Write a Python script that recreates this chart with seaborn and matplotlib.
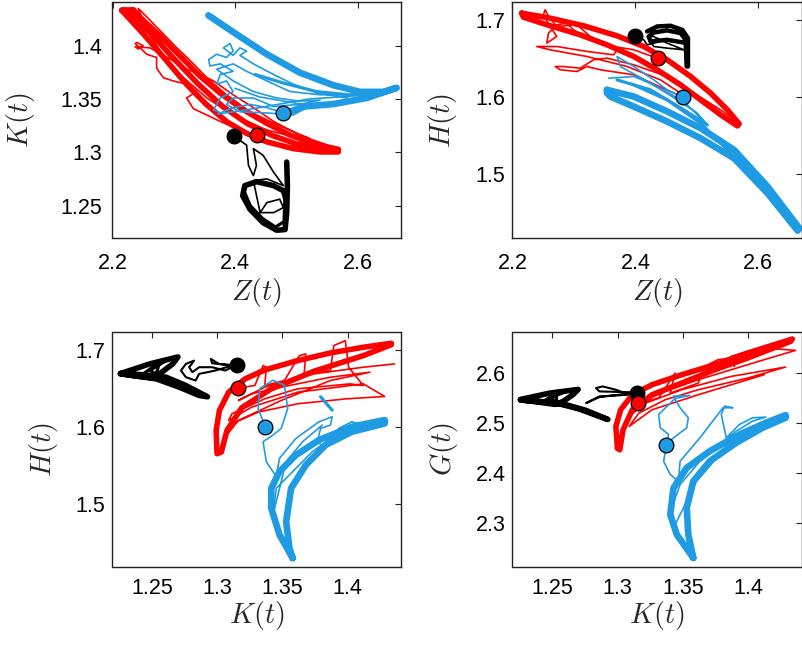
import matplotlib
matplotlib.use('Agg')
import matplotlib.pyplot as plt
import seaborn as sns

RED = '#FF0000'
BLUE = '#1F9BE3'
BLACK = '#000000'

# ---------------- Panel TL : Z(t) vs K(t) ----------------
tl_red_thick_z = [2.215, 2.2503, 2.2884, 2.3211, 2.3537, 2.3864, 2.419, 2.4517, 2.4952, 2.5388, 2.5687,
                  2.5687, 2.5333, 2.4898, 2.4517, 2.4136, 2.3755, 2.3429, 2.3102, 2.2776, 2.2503, 2.234, 2.215,
                  2.222, 2.26, 2.30, 2.34, 2.38, 2.42, 2.46, 2.50, 2.55]
tl_red_thick_k = [1.4332, 1.4111, 1.3858, 1.3636, 1.3447, 1.3288, 1.3178, 1.3099, 1.3035, 1.3004, 1.3004,
                  1.3029, 1.3073, 1.3162, 1.3273, 1.3399, 1.3557, 1.3715, 1.3905, 1.4095, 1.4237, 1.4338, 1.4332,
                  1.433, 1.413, 1.388, 1.364, 1.343, 1.327, 1.316, 1.308, 1.303]
tl_red_thin_z = [2.435, 2.408, 2.376, 2.354, 2.332, 2.321, 2.337, 2.321, 2.299, 2.283, 2.272, 2.272, 2.256, 2.245,
                 2.237, 2.240, 2.250, 2.242, 2.237, 2.261, 2.299, 2.321, 2.343, 2.365, 2.397, 2.430, 2.463, 2.506,
                 2.550, 2.506, 2.452, 2.397, 2.354, 2.310, 2.278, 2.256, 2.242, 2.256, 2.278, 2.305, 2.327, 2.354,
                 2.386, 2.425, 2.468, 2.522]
tl_red_thin_k = [1.316, 1.321, 1.329, 1.335, 1.341, 1.351, 1.357, 1.364, 1.367, 1.370, 1.379, 1.389, 1.392, 1.398,
                 1.402, 1.403, 1.400, 1.397, 1.399, 1.398, 1.386, 1.378, 1.373, 1.367, 1.354, 1.342, 1.329, 1.316,
                 1.307, 1.313, 1.321, 1.335, 1.351, 1.373, 1.395, 1.414, 1.435, 1.427, 1.414, 1.398, 1.386, 1.370,
                 1.354, 1.338, 1.326, 1.313]
tl_blue_thick_z = [2.3565, 2.3973, 2.4517, 2.5061, 2.5605, 2.6041, 2.6422, 2.6639, 2.6150, 2.5605, 2.5143, 2.4898]
tl_blue_thick_k = [1.4285, 1.4127, 1.3921, 1.3747, 1.3630, 1.3567, 1.3567, 1.3605, 1.3510, 1.3453, 1.3431, 1.3383]
tl_blue_mid_z = [2.433, 2.479, 2.533, 2.585, 2.626, 2.664]
tl_blue_mid_k = [1.373, 1.365, 1.357, 1.354, 1.355, 1.360]
tl_blue_thin_z = [2.479, 2.452, 2.425, 2.397, 2.376, 2.365, 2.376, 2.397, 2.386, 2.370, 2.376, 2.397, 2.376, 2.359,
                  2.357, 2.370, 2.386, 2.397, 2.392, 2.381, 2.397, 2.408, 2.419, 2.408, 2.430, 2.463, 2.495, 2.533,
                  2.582, 2.588, 2.539, 2.490, 2.452, 2.419, 2.397, 2.370, 2.397, 2.430, 2.468, 2.506, 2.539, 2.506,
                  2.463, 2.430, 2.397, 2.386, 2.408, 2.452, 2.495, 2.517, 2.561]
tl_blue_thin_k = [1.337, 1.342, 1.345, 1.342, 1.337, 1.340, 1.351, 1.357, 1.367, 1.364, 1.373, 1.376, 1.383, 1.381,
                  1.387, 1.392, 1.389, 1.395, 1.402, 1.398, 1.391, 1.398, 1.395, 1.391, 1.383, 1.373, 1.364, 1.356,
                  1.351, 1.354, 1.354, 1.357, 1.367, 1.376, 1.383, 1.378, 1.367, 1.357, 1.351, 1.348, 1.349, 1.345,
                  1.343, 1.351, 1.351, 1.345, 1.338, 1.337, 1.335, 1.342, 1.345]
tl_blue_thin2_z = [2.372, 2.42, 2.47, 2.52, 2.57, 2.62, 2.60, 2.55, 2.50, 2.44, 2.40]
tl_blue_thin2_k = [1.336, 1.340, 1.345, 1.350, 1.352, 1.354, 1.349, 1.343, 1.346, 1.352, 1.360]
tl_black_thick_z = [2.4844, 2.4855, 2.4844, 2.4817, 2.468, 2.446, 2.4245, 2.4125, 2.416, 2.435, 2.463, 2.479, 2.4833]
tl_black_thick_k = [1.2909, 1.2688, 1.2435, 1.2276, 1.2270, 1.2340, 1.2466, 1.2593, 1.2688, 1.2725, 1.2688, 1.2640, 1.2561]
tl_black_mid_z = [2.482, 2.480, 2.466, 2.445, 2.425, 2.416]
tl_black_mid_k = [1.265, 1.235, 1.230, 1.238, 1.250, 1.262]
tl_black_thin_z = [2.399, 2.419, 2.422, 2.430, 2.435, 2.430, 2.446, 2.463, 2.479, 2.452, 2.430, 2.441, 2.452, 2.473,
                   2.479, 2.463, 2.441]
tl_black_thin_k = [1.315, 1.3067, 1.2877, 1.2782, 1.2877, 1.3035, 1.2972, 1.2814, 1.2688, 1.2751, 1.2735, 1.2435,
                   1.2529, 1.2561, 1.2482, 1.2435, 1.2435]

# ---------------- Panel TR : Z(t) vs H(t) ----------------
tr_red_thick_z = [2.215, 2.2612, 2.3156, 2.3701, 2.4136, 2.4517, 2.4898, 2.5224, 2.5497, 2.5687, 2.5660, 2.5388,
                  2.5061, 2.4735, 2.4354, 2.3973, 2.3537, 2.3102, 2.2612, 2.2177, 2.215]
tr_red_thick_h = [1.7095, 1.7030, 1.6931, 1.6800, 1.6661, 1.6488, 1.6271, 1.6054, 1.5837, 1.5655, 1.5628, 1.5772,
                  1.5967, 1.6162, 1.6358, 1.6531, 1.6683, 1.6813, 1.6931, 1.7043, 1.7095]
tr_red_thin_z = [2.4354, 2.3973, 2.3646, 2.3429, 2.3211, 2.2993, 2.2884, 2.2721, 2.2585, 2.2558, 2.2721, 2.2612,
                 2.2503, 2.2531, 2.2585, 2.2721, 2.3048, 2.3265, 2.3483, 2.3701, 2.3646, 2.3211, 2.2721, 2.2395,
                 2.2612, 2.3211, 2.3864, 2.4408, 2.4898, 2.4626, 2.3973, 2.3429, 2.3211, 2.3048, 2.2776, 2.2694,
                 2.2830, 2.3102, 2.3320, 2.3537, 2.3973, 2.4517, 2.4952, 2.5388, 2.5605]
tr_red_thin_h = [1.6510, 1.6618, 1.6661, 1.6727, 1.6770, 1.6878, 1.6965, 1.6944, 1.6835, 1.6705, 1.6792, 1.6922,
                 1.7074, 1.7139, 1.7052, 1.6922, 1.6944, 1.6792, 1.6683, 1.6618, 1.6553, 1.6597, 1.6661, 1.6661,
                 1.6618, 1.6531, 1.6401, 1.6227, 1.5967, 1.6054, 1.6293, 1.6358, 1.6401, 1.6336, 1.6358, 1.6401,
                 1.6401, 1.6379, 1.6488, 1.6510, 1.6423, 1.6271, 1.6054, 1.5837, 1.5707]
tr_blue_thick_z = [2.3537, 2.3973, 2.4517, 2.5061, 2.5605, 2.6150, 2.6667, 2.6639, 2.6150, 2.5605, 2.5061, 2.4517,
                   2.3973, 2.3592, 2.3537, 2.3537]
tr_blue_thick_h = [1.6097, 1.6010, 1.5816, 1.5598, 1.5316, 1.4839, 1.4296, 1.4266, 1.4752, 1.5207, 1.5468, 1.5685,
                   1.5880, 1.6010, 1.6054, 1.6097]
tr_blue_mid_z = [2.3701, 2.4245, 2.4789, 2.5170, 2.3973, 2.4517, 2.5061, 2.5551]
tr_blue_mid_h = [1.6227, 1.6097, 1.5837, 1.5641, 1.6162, 1.5967, 1.5664, 1.5273]
tr_blue_thin_z = [2.478, 2.4517, 2.4299, 2.3973, 2.3701, 2.3755, 2.4100, 2.4517, 2.5000, 2.5170, 2.4789, 2.4299,
                  2.3973, 2.3565]
tr_blue_thin_h = [1.600, 1.6097, 1.6227, 1.6401, 1.6531, 1.6400, 1.6250, 1.6050, 1.5800, 1.5641, 1.5945, 1.6162,
                  1.6271, 1.6249]
tr_black_thick_z = [2.4190, 2.4354, 2.4571, 2.4762, 2.4855, 2.4855, 2.4833, 2.4816, 2.4735, 2.4517, 2.4299, 2.4218,
                    2.4245, 2.4517, 2.4844]
tr_black_thick_h = [1.6857, 1.6922, 1.6931, 1.6878, 1.6770, 1.6401, 1.6401, 1.6748, 1.6835, 1.6870, 1.6844, 1.6792,
                    1.6727, 1.6748, 1.6705]
tr_black_thin_z = [2.399, 2.4136, 2.4190, 2.4299, 2.4408, 2.4299, 2.4190, 2.4299, 2.4517, 2.4789, 2.4517, 2.4354]
tr_black_thin_h = [1.680, 1.6748, 1.6683, 1.6705, 1.6727, 1.6792, 1.6792, 1.6661, 1.6640, 1.6618, 1.6705, 1.6770]

# ---------------- Panel BL : K(t) vs H(t) ----------------
bl_red_thick_k = [1.4336, 1.4121, 1.3869, 1.3617, 1.3365, 1.3214, 1.3088, 1.3017, 1.2992, 1.2999, 1.3032, 1.3075,
                  1.3188, 1.3415, 1.3743, 1.4121, 1.4336]
bl_red_thick_h = [1.7087, 1.7035, 1.6961, 1.6861, 1.6740, 1.6623, 1.6450, 1.6212, 1.5952, 1.5649, 1.5671, 1.5952,
                  1.6247, 1.6494, 1.6723, 1.6926, 1.7069]
bl_red_thin_k = [1.3151, 1.3289, 1.3352, 1.3377, 1.3365, 1.3516, 1.3630, 1.3680, 1.3667, 1.3869, 1.3894, 1.3983,
                 1.4008, 1.4121, 1.4020, 1.3617, 1.3365, 1.3113, 1.3088, 1.3264, 1.3617, 1.4121, 1.4285, 1.3995,
                 1.3617, 1.3314, 1.3113, 1.3062, 1.3163, 1.3491, 1.3869, 1.4172, 1.3869, 1.3491, 1.3264, 1.3163,
                 1.3365, 1.3743, 1.4121, 1.4361]
bl_red_thin_h = [1.6502, 1.6537, 1.6797, 1.6775, 1.6537, 1.6602, 1.6926, 1.6948, 1.6688, 1.6732, 1.7056, 1.7121,
                 1.6775, 1.6537, 1.6558, 1.6494, 1.6364, 1.6169, 1.6082, 1.6255, 1.6450, 1.6558, 1.6394, 1.6364,
                 1.6299, 1.6190, 1.6039, 1.5866, 1.6082, 1.6342, 1.6602, 1.6710, 1.6645, 1.6515, 1.6429, 1.6342,
                 1.6515, 1.6688, 1.6775, 1.6818]
bl_blue_thick_k = [1.3579, 1.3478, 1.3415, 1.3415, 1.3478, 1.3604, 1.3781, 1.4033, 1.4285, 1.4285, 1.4033, 1.3831,
                   1.3680, 1.3567, 1.3529, 1.3554, 1.3579]
bl_blue_thick_h = [1.4290, 1.4593, 1.4939, 1.5199, 1.5416, 1.5632, 1.5827, 1.6000, 1.6087, 1.6043, 1.5935, 1.5762,
                   1.5502, 1.5199, 1.4766, 1.4420, 1.4290]
bl_blue_mid_k = [1.3793, 1.3882]
bl_blue_mid_h = [1.6390, 1.6216]
bl_blue_thin_k = [1.3372, 1.3314, 1.3327, 1.3428, 1.3516, 1.3541, 1.3491, 1.3428, 1.3352, 1.3377, 1.3453, 1.3478,
                  1.3604, 1.3781, 1.3882, 1.3869, 1.3793, 1.3768, 1.3831, 1.3932, 1.4033, 1.4109, 1.4033, 1.3907,
                  1.3730, 1.3579, 1.3453, 1.3428, 1.3529, 1.3655, 1.3806]
bl_blue_thin_h = [1.5987, 1.6238, 1.6498, 1.6606, 1.6541, 1.6238, 1.5978, 1.5892, 1.5805, 1.5545, 1.5351, 1.5589,
                  1.5848, 1.6065, 1.6130, 1.6022, 1.5978, 1.5805, 1.5719, 1.5978, 1.6065, 1.6022, 1.5978, 1.5892,
                  1.5675, 1.5416, 1.5199, 1.4853, 1.5545, 1.5805, 1.6022]
bl_black_thick_k = [1.2258, 1.2482, 1.2699, 1.2659, 1.2558, 1.2548, 1.2356, 1.2258, 1.2407, 1.2608, 1.2760, 1.2926,
                    1.2861, 1.2709, 1.2533, 1.2258]
bl_black_thick_h = [1.6693, 1.6818, 1.6909, 1.6818, 1.6688, 1.6628, 1.6667, 1.6693, 1.6680, 1.6645, 1.6537, 1.6390,
                    1.6407, 1.6515, 1.6623, 1.6688]
bl_black_mid_k = [1.2432, 1.2558, 1.2533, 1.2482, 1.2608]
bl_black_mid_h = [1.6688, 1.6840, 1.6688, 1.6732, 1.6861]
bl_black_thin_k = [1.3151, 1.3012, 1.2951, 1.2961, 1.3113, 1.2987, 1.2861, 1.2835, 1.2760, 1.2722, 1.2760, 1.2823,
                   1.2785, 1.2810, 1.2861, 1.2961, 1.3062, 1.3113]
bl_black_thin_h = [1.6797, 1.6818, 1.6883, 1.6827, 1.6797, 1.6732, 1.6688, 1.6602, 1.6645, 1.6732, 1.6818, 1.6861,
                   1.6775, 1.6710, 1.6775, 1.6775, 1.6732, 1.6775]

# ---------------- Panel BR : K(t) vs G(t) ----------------
br_red_thick_k = [1.2999, 1.2987, 1.3024, 1.3113, 1.3264, 1.3491, 1.3743, 1.3995, 1.4336, 1.4323, 1.3995, 1.3743,
                  1.3491, 1.3264, 1.3113, 1.3042, 1.3017, 1.2999]
br_red_thick_g = [2.4500, 2.4933, 2.5267, 2.5567, 2.5767, 2.5967, 2.6167, 2.6400, 2.6680, 2.6633, 2.6300, 2.6067,
                  2.5800, 2.5567, 2.5267, 2.4867, 2.4467, 2.4500]
br_red_thin_k = [1.3151, 1.3314, 1.3415, 1.3440, 1.3403, 1.3617, 1.3667, 1.3768, 1.3869, 1.3894, 1.3869, 1.3995,
                 1.4121, 1.4361, 1.4121, 1.3869, 1.3617, 1.3365, 1.3163, 1.3088, 1.3214, 1.3491, 1.3869, 1.4285,
                 1.3995, 1.3617, 1.3365, 1.3163, 1.3088, 1.3264, 1.3617, 1.3869, 1.4121]
br_red_thin_g = [2.5400, 2.5500, 2.5900, 2.6000, 2.5600, 2.5800, 2.6133, 2.6267, 2.6300, 2.6133, 2.6333, 2.6433,
                 2.6500, 2.6453, 2.6267, 2.6067, 2.5867, 2.5633, 2.5400, 2.5133, 2.5400, 2.5667, 2.5933, 2.6120,
                 2.5900, 2.5667, 2.5467, 2.5200, 2.4933, 2.5267, 2.5567, 2.5767, 2.5967]
br_blue_thick_k = [1.3579, 1.3453, 1.3403, 1.3428, 1.3529, 1.3705, 1.3932, 1.4134, 1.4285, 1.4285, 1.4109, 1.3907,
                   1.3705, 1.3579, 1.3529, 1.3541, 1.3579]
br_blue_thick_g = [2.2307, 2.2773, 2.3173, 2.3707, 2.4107, 2.4440, 2.4773, 2.5007, 2.5160, 2.5107, 2.4907, 2.4607,
                   2.4240, 2.3840, 2.3307, 2.2773, 2.2307]
br_blue_thin_k = [1.3372, 1.3428, 1.3529, 1.3541, 1.3478, 1.3440, 1.3428, 1.3554, 1.3440, 1.3314, 1.3327, 1.3390,
                  1.3352, 1.3403, 1.3466, 1.3478, 1.3630, 1.3806, 1.3882, 1.3819, 1.3793, 1.3831, 1.3932, 1.4033,
                  1.4134, 1.4033, 1.3907, 1.3781, 1.3630, 1.3478, 1.3415, 1.3428, 1.3478, 1.3604, 1.3781, 1.3983,
                  1.4134]
br_blue_thin_g = [2.4573, 2.4707, 2.4907, 2.5107, 2.5307, 2.5473, 2.5540, 2.5553, 2.5493, 2.5173, 2.4907, 2.4773,
                  2.4240, 2.3973, 2.3840, 2.4240, 2.4707, 2.5307, 2.5307, 2.5340, 2.5173, 2.4707, 2.4973, 2.5107,
                  2.5120, 2.5040, 2.4840, 2.4573, 2.4240, 2.3773, 2.3307, 2.2907, 2.3173, 2.3840, 2.4373, 2.4773,
                  2.5040]
br_black_thick_k = [1.2258, 1.2482, 1.2699, 1.2659, 1.2583, 1.2523, 1.2356, 1.2258, 1.2432, 1.2608, 1.2760, 1.2926,
                    1.2861, 1.2709, 1.2533, 1.2258]
br_black_thick_g = [2.5473, 2.5600, 2.5673, 2.5567, 2.5433, 2.5373, 2.5433, 2.5467, 2.5427, 2.5367, 2.5253, 2.5073,
                    2.5133, 2.5280, 2.5400, 2.5460]
br_black_mid_k = [1.2432, 1.2533, 1.2533, 1.2482, 1.2608]
br_black_mid_g = [2.5433, 2.5600, 2.5433, 2.5500, 2.5633]
br_black_thin_k = [1.3151, 1.2861, 1.2835, 1.2886, 1.2987, 1.3088, 1.2861, 1.2760, 1.2861, 1.3113]
br_black_thin_g = [2.5613, 2.5633, 2.5700, 2.5733, 2.5667, 2.5567, 2.5533, 2.5400, 2.5520, 2.5600]

# ---------------- starting points ----------------
dot_colors = [BLACK, RED, BLUE]
dot_z = [2.399, 2.436, 2.478]
dot_k = [1.315, 1.316, 1.337]
dot_h = [1.680, 1.651, 1.600]
dot_g = [2.561, 2.540, 2.457]

# ---------------- axes settings ----------------
z_lim = (2.2, 2.671)
k_lim = (1.2197, 1.441)
h_lim = (1.417, 1.724)
g_lim = (2.212, 2.683)
z_ticks = [2.2, 2.4, 2.6]
z_ticklabels = ['2.2', '2.4', '2.6']
k_ticks = [1.25, 1.3, 1.35, 1.4]
k_ticklabels = ['1.25', '1.3', '1.35', '1.4']
h_ticks = [1.5, 1.6, 1.7]
h_ticklabels = ['1.5', '1.6', '1.7']
g_ticks = [2.3, 2.4, 2.5, 2.6]
g_ticklabels = ['2.3', '2.4', '2.5', '2.6']

sns.set_theme(style='white')
plt.rcParams['font.family'] = ['Liberation Sans', 'DejaVu Sans']
plt.rcParams['mathtext.fontset'] = 'cm'

fig = plt.figure(figsize=(8.03, 6.46), dpi=100)
W, H = 803.0, 646.0


def make_ax(l, t, r, b):
    return fig.add_axes([l / W, 1 - b / H, (r - l) / W, (b - t) / H])


ax_tl = make_ax(112.5, 2, 401, 238)
ax_tr = make_ax(512.5, 2, 802, 238)
ax_bl = make_ax(112.5, 331.5, 401, 567.3)
ax_br = make_ax(512.5, 331.5, 802, 567.3)

LW_THICK, LW_MID, LW_THIN = 4.0, 2.3, 1.2


def line(ax, x, y, color, lw):
    sns.lineplot(x=x, y=y, sort=False, estimator=None, color=color, linewidth=lw, ax=ax,
                 solid_capstyle='round', solid_joinstyle='round', legend=False)


def dots(ax, x, y):
    for xi, yi, c in zip(x, y, dot_colors):
        sns.scatterplot(x=[xi], y=[yi], color=c, s=112, edgecolor='black', linewidth=0.9,
                        ax=ax, zorder=6, legend=False)


# TL
line(ax_tl, tl_black_thick_z, tl_black_thick_k, BLACK, LW_THICK)
line(ax_tl, tl_black_mid_z, tl_black_mid_k, BLACK, LW_MID)
line(ax_tl, tl_black_thin_z, tl_black_thin_k, BLACK, LW_THIN)
line(ax_tl, tl_red_thick_z, tl_red_thick_k, RED, LW_THICK)
line(ax_tl, tl_red_thin_z, tl_red_thin_k, RED, LW_THIN)
line(ax_tl, tl_blue_thick_z, tl_blue_thick_k, BLUE, LW_THICK + 0.8)
line(ax_tl, tl_blue_mid_z, tl_blue_mid_k, BLUE, LW_MID)
line(ax_tl, tl_blue_thin_z, tl_blue_thin_k, BLUE, LW_THIN)
line(ax_tl, tl_blue_thin2_z, tl_blue_thin2_k, BLUE, LW_THIN)
dots(ax_tl, dot_z, dot_k)

# TR
line(ax_tr, tr_black_thick_z, tr_black_thick_h, BLACK, LW_THICK - 0.8)
line(ax_tr, tr_black_thin_z, tr_black_thin_h, BLACK, LW_THIN)
line(ax_tr, tr_red_thick_z, tr_red_thick_h, RED, LW_THICK)
line(ax_tr, tr_red_thin_z, tr_red_thin_h, RED, LW_THIN)
line(ax_tr, tr_blue_thick_z, tr_blue_thick_h, BLUE, LW_THICK + 0.8)
line(ax_tr, tr_blue_mid_z[:4], tr_blue_mid_h[:4], BLUE, LW_MID)
line(ax_tr, tr_blue_mid_z[4:], tr_blue_mid_h[4:], BLUE, LW_MID)
line(ax_tr, tr_blue_thin_z, tr_blue_thin_h, BLUE, LW_THIN)
dots(ax_tr, dot_z, dot_h)

# BL
line(ax_bl, bl_black_thick_k, bl_black_thick_h, BLACK, LW_THICK)
line(ax_bl, bl_black_mid_k, bl_black_mid_h, BLACK, LW_MID)
line(ax_bl, bl_black_thin_k, bl_black_thin_h, BLACK, LW_THIN + 0.3)
line(ax_bl, bl_red_thick_k, bl_red_thick_h, RED, LW_THICK)
line(ax_bl, bl_red_thin_k, bl_red_thin_h, RED, LW_THIN)
line(ax_bl, bl_blue_thick_k, bl_blue_thick_h, BLUE, LW_THICK + 0.8)
line(ax_bl, bl_blue_mid_k, bl_blue_mid_h, BLUE, LW_MID)
line(ax_bl, bl_blue_thin_k, bl_blue_thin_h, BLUE, LW_THIN)
dots(ax_bl, dot_k, dot_h)

# BR
line(ax_br, br_black_thick_k, br_black_thick_g, BLACK, LW_THICK)
line(ax_br, br_black_mid_k, br_black_mid_g, BLACK, LW_MID)
line(ax_br, br_black_thin_k, br_black_thin_g, BLACK, LW_THIN + 0.3)
line(ax_br, br_red_thick_k, br_red_thick_g, RED, LW_THICK)
line(ax_br, br_red_thin_k, br_red_thin_g, RED, LW_THIN)
line(ax_br, br_blue_thick_k, br_blue_thick_g, BLUE, LW_THICK + 0.8)
line(ax_br, br_blue_thin_k, br_blue_thin_g, BLUE, LW_THIN)
dots(ax_br, dot_k, dot_g)

specs = [
    (ax_tl, z_lim, k_lim, z_ticks, z_ticklabels, k_ticks, k_ticklabels, r'$Z(t)$', r'$K(t)$', -0.229, -0.319, 11.0, 7.5),
    (ax_tr, z_lim, h_lim, z_ticks, z_ticklabels, h_ticks, h_ticklabels, r'$Z(t)$', r'$H(t)$', -0.229, -0.242, 11.0, 5.0),
    (ax_bl, k_lim, h_lim, k_ticks, k_ticklabels, h_ticks, h_ticklabels, r'$K(t)$', r'$H(t)$', -0.203, -0.240, 8.0, 5.0),
    (ax_br, k_lim, g_lim, k_ticks, k_ticklabels, g_ticks, g_ticklabels, r'$K(t)$', r'$G(t)$', -0.203, -0.238, 8.0, 5.0),
]
for ax, xl, yl, xt, xtl, yt, ytl, xlab, ylab, xly, ylx, xpad, ypad in specs:
    ax.set_xlim(*xl)
    ax.set_ylim(*yl)
    ax.set_xticks(xt)
    ax.set_xticklabels(xtl)
    ax.set_yticks(yt)
    ax.set_yticklabels(ytl)
    ax.tick_params(axis='both', which='major', direction='in', top=True, right=True,
                   length=4, width=0.8, labelsize=15.5, colors='#222222', labelcolor='black')
    ax.tick_params(axis='x', pad=xpad)
    ax.tick_params(axis='y', pad=ypad)
    for sp in ax.spines.values():
        sp.set_visible(True)
        sp.set_color('#222222')
        sp.set_linewidth(1.0)
    ax.set_facecolor('white')
    ax.set_xlabel(xlab, fontsize=20.5)
    ax.set_ylabel(ylab, fontsize=20.5)
    ax.xaxis.set_label_coords(0.5, xly)
    ax.yaxis.set_label_coords(ylx, 0.5)
    ax.xaxis.label.set_verticalalignment('center')
    ax.yaxis.label.set_verticalalignment('center')
    ax.yaxis.label.set_horizontalalignment('center')

fig.savefig('out.png', dpi=100)
